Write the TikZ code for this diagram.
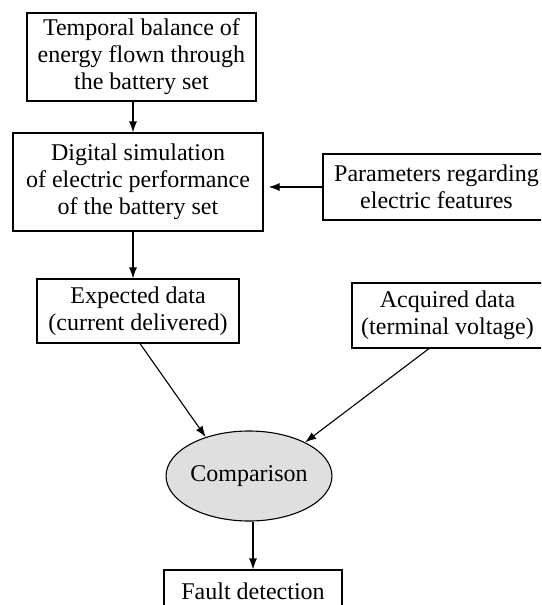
\documentclass[tikz,border=0pt]{standalone}
\usepackage{fontspec}
\setmainfont{Liberation Serif}
\usetikzlibrary{arrows.meta,shapes.geometric}
\tikzset{
  box/.style={draw=black, line width=1.1pt, align=center, inner sep=0pt,
    font=\fontsize{24}{27}\selectfont},
  cmpnode/.style={draw=black, line width=1.1pt, ellipse, fill=gray!25,
    inner sep=0pt, font=\fontsize{24}{27}\selectfont},
  arr/.style={line width=1.1pt, -{Latex[length=11pt,width=8pt]}}
}
\begin{document}
\begin{tikzpicture}[x=1pt,y=-1pt]
  \useasboundingbox (0,0) rectangle (541,605);
  \clip (0,0) rectangle (541,605);

  % processing chain on the left
  \node[box, minimum width=229pt, minimum height=88pt] (bal) at (141.5,57)
    {Temporal balance of\\energy flown through\\the battery set};
  \node[box, minimum width=250pt, minimum height=98pt] (sim) at (138,182)
    {Digital simulation\\of electric performance\\of the battery set};
  \node[box, minimum width=227pt, minimum height=66pt] (par) at (436.5,187)
    {Parameters regarding\\electric features};
  \node[box, minimum width=202pt, minimum height=64pt] (exp) at (138,311)
    {Expected data\\(current delivered)};
  \node[box, minimum width=191pt, minimum height=65pt] (acq) at (447.5,315.5)
    {Acquired data\\(terminal voltage)};
  \node[cmpnode, minimum width=139pt, minimum height=90pt] (cmp) at (249,476)
    {Comparison};
  \node[box, minimum width=178pt, minimum height=42pt] (flt) at (253,591)
    {Fault detection};

  % connectors
  \draw[arr] ([xshift=-8.5pt]bal.south) -- ([xshift=-8.5pt]bal.south |- sim.north);
  \draw[arr] (par.west) -- ([xshift=5pt]par.west -| sim.east);
  \draw[arr] ([xshift=-5pt]sim.south) -- ([xshift=-5pt]sim.south |- exp.north);
  \draw[arr] ([xshift=2pt]exp.south) -- (cmp.138);
  \draw[arr] ([xshift=-18.5pt]acq.south) -- (cmp.31);
  \draw[arr] ([xshift=4pt]cmp.south) -- ([xshift=4pt]cmp.south |- flt.north);
\end{tikzpicture}
\end{document}
